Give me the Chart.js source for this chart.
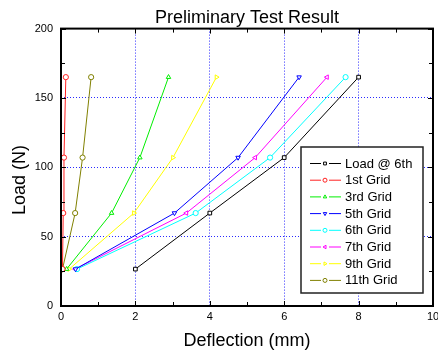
<!DOCTYPE html>
<html>
<head>
<meta charset="utf-8">
<script src="https://cdn.jsdelivr.net/npm/chart.js@4"></script>
<style>
  html, body { margin: 0; padding: 0; background: #fff; }
  canvas { display: block; }
</style>
</head>
<body>
<canvas id="myChart" width="438" height="352"></canvas>
<script>
// Load levels (N) shared by every series
const loads = [26.6, 67, 107, 165];

// Deflection (mm), one array per series
const load6th = [2.0, 4.0, 6.0, 8.0];
const grid1 = [0.04, 0.06, 0.08, 0.13];
const grid3 = [0.15, 1.36, 2.12, 2.89];
const grid5 = [0.39, 3.05, 4.76, 6.40];
const grid6 = [0.43, 3.62, 5.62, 7.65];
const grid7 = [0.38, 3.37, 5.22, 7.15];
const grid9 = [0.22, 1.96, 3.01, 4.18];
const grid11 = [0.04, 0.38, 0.58, 0.81];

const seriesNames = ['Load @ 6th', '1st Grid', '3rd Grid', '5th Grid', '6th Grid', '7th Grid', '9th Grid', '11th Grid'];
const seriesX = [load6th, grid1, grid3, grid5, grid6, grid7, grid9, grid11];
const colors = ['#000000', '#ff2020', '#00ee00', '#0000ff', '#00ffff', '#ff00ff', '#ffff00', '#808000'];
const markers = ['rect', 'circle', 'triangle', 'triangle', 'circle', 'triangle', 'triangle', 'circle'];
const rotations = [0, 0, 0, 180, 0, -90, 90, 0];

const xTicks = [0, 2, 4, 6, 8, 10];
const yTicks = [0, 50, 100, 150, 200];

const datasets = seriesNames.map((name, i) => ({
    label: name,
    data: seriesX[i].map((x, j) => ({ x: x, y: loads[j] })),
    borderColor: colors[i],
    backgroundColor: '#ffffff',
    borderWidth: 1,
    pointStyle: markers[i],
    pointRotation: rotations[i],
    pointRadius: 2.6,
    pointBorderWidth: 1,
    pointBackgroundColor: '#ffffff',
    pointBorderColor: colors[i],
    tension: 0
}));

function line(ctx, x1, y1, x2, y2) {
    ctx.beginPath();
    ctx.moveTo(x1, y1);
    ctx.lineTo(x2, y2);
    ctx.stroke();
}

// frame, inward ticks (major + minor), y title and the boxed legend
const framePlugin = {
    id: 'frame',
    afterDraw(chart) {
        const { ctx, chartArea: a, scales: { x, y } } = chart;
        ctx.save();
        ctx.strokeStyle = '#000';
        ctx.lineWidth = 1;
        for (let v = 0; v <= 10; v += 1) {
            const px = Math.round(x.getPixelForValue(v)) + 0.5;
            const len = v % 2 ? 4 : 5;
            line(ctx, px, a.bottom, px, a.bottom - len);
            line(ctx, px, a.top, px, a.top + len);
        }
        for (let v = 0; v <= 200; v += 25) {
            const py = Math.round(y.getPixelForValue(v)) + 0.5;
            const len = v % 50 ? 4 : 5;
            line(ctx, a.left, py, a.left + len, py);
            line(ctx, a.right, py, a.right - len, py);
        }
        ctx.lineWidth = 2;
        ctx.strokeRect(a.left, a.top, a.right - a.left, a.bottom - a.top);

        // y axis title
        ctx.save();
        ctx.translate(20, 180);
        ctx.rotate(-Math.PI / 2);
        ctx.fillStyle = '#000';
        ctx.font = '18px "Liberation Sans", Arial, sans-serif';
        ctx.textAlign = 'center';
        ctx.textBaseline = 'middle';
        ctx.fillText('Load (N)', 0, 0);
        ctx.restore();

        // legend
        const lx = 301, ly = 147, lw = 122, lh = 146;
        ctx.fillStyle = '#fff';
        ctx.fillRect(lx, ly, lw, lh);
        ctx.lineWidth = 1.5;
        ctx.strokeStyle = '#222';
        ctx.strokeRect(lx, ly, lw, lh);
        ctx.font = '13px "Liberation Sans", Arial, sans-serif';
        ctx.textBaseline = 'middle';
        ctx.textAlign = 'left';
        chart.data.datasets.forEach((ds, i) => {
            const cy = ly + 16.5 + i * 16.7;
            ctx.strokeStyle = ds.borderColor;
            ctx.lineWidth = 1;
            line(ctx, 310, cy, 321, cy);
            line(ctx, 329, cy, 341, cy);
            ctx.fillStyle = '#fff';
            Chart.helpers.drawPoint(ctx, {
                pointStyle: ds.pointStyle,
                rotation: ds.pointRotation,
                radius: 2,
                borderWidth: 1
            }, 325, cy);
            ctx.fillStyle = '#000';
            ctx.fillText(ds.label, 345, cy + 0.5);
        });
        ctx.restore();
    }
};

const chart = new Chart(document.getElementById('myChart'), {
    type: 'line',
    data: { datasets: datasets },
    options: {
        responsive: false,
        animation: false,
        layout: { padding: { left: 0, right: 3, top: 0, bottom: 0 } },
        plugins: {
            legend: { display: false },
            tooltip: { enabled: false },
            title: {
                display: true,
                text: 'Preliminary Test Result',
                fullSize: false,
                color: '#000',
                font: { family: '"Liberation Sans", Arial, sans-serif', size: 18, weight: 'normal' },
                padding: { top: 7, bottom: 0 }
            }
        },
        scales: {
            x: {
                type: 'linear',
                min: 0,
                max: 10,
                afterBuildTicks: s => { s.ticks = xTicks.map(v => ({ value: v })); },
                afterFit: s => { s.height = 46; s.paddingRight = 0; s.paddingLeft = 0; },
                ticks: {
                    color: '#000',
                    padding: 4,
                    font: { family: '"Liberation Sans", Arial, sans-serif', size: 11 }
                },
                grid: {
                    drawTicks: false,
                    color: c => (c.tick.value > 0 && c.tick.value < 10) ? '#2a2aff' : 'rgba(0,0,0,0)'
                },
                border: { display: false, dash: [1, 2] },
                title: {
                    display: true,
                    text: 'Deflection (mm)',
                    color: '#000',
                    font: { family: '"Liberation Sans", Arial, sans-serif', size: 18 },
                    padding: { top: 2, bottom: 0 }
                }
            },
            y: {
                type: 'linear',
                min: 0,
                max: 200,
                afterBuildTicks: s => { s.ticks = yTicks.map(v => ({ value: v })); },
                afterFit: s => { s.width = 61; },
                ticks: {
                    color: '#000',
                    padding: 8,
                    font: { family: '"Liberation Sans", Arial, sans-serif', size: 11 }
                },
                grid: {
                    drawTicks: false,
                    color: c => (c.tick.value > 0 && c.tick.value < 200) ? '#2a2aff' : 'rgba(0,0,0,0)'
                },
                border: { display: false, dash: [1, 2] }
            }
        }
    },
    plugins: [framePlugin]
});
</script>
</body>
</html>
